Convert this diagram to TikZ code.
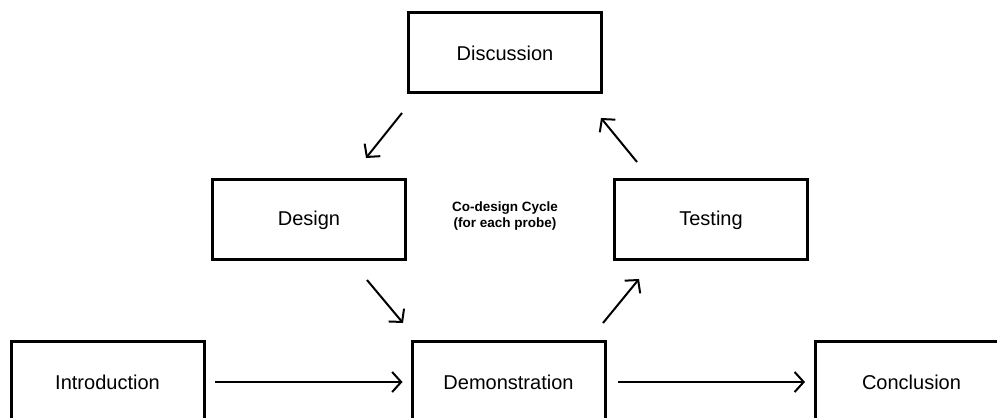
\documentclass[tikz,border=0pt]{standalone}
\usepackage{fontspec}
\setmainfont{Liberation Sans}
\usetikzlibrary{positioning}
\usetikzlibrary{arrows.meta}
\usetikzlibrary{calc}

\begin{document}
\begin{tikzpicture}[x=1pt, y=1pt,
    stage/.style={draw, line width=3pt, minimum width=193pt, minimum height=80pt, font=\fontsize{20}{24}\selectfont},
    flow/.style={line width=2pt, -{Straight Barb[length=9pt, width=20pt]}}]
  \useasboundingbox (0,0) rectangle (997,418);
  \clip (0,0) rectangle (997,418);

  \node[stage] (disc) at (505,365) {Discussion};
  \node[stage] (design) at (309,198) {Design};
  \node[stage] (testing) at (711,198) {Testing};
  \node[stage] (intro) at (107.5,36) {Introduction};
  \node[stage] (demo) at (508.5,36) {Demonstration};
  \node[stage] (concl) at (911.5,36) {Conclusion};

  \node[font=\fontsize{13.5}{15.5}\selectfont\bfseries, align=center] (cycle) at (505,202) {Co-design Cycle\\(for each probe)};

  % the cycle
  \draw[flow] ([shift={(-5,-18.5)}]disc.south west) -- ([shift={(-41,20.5)}]design.north east);
  \draw[flow] ([shift={(-40,-18.5)}]design.south east) -- ([shift={(-7.5,17.5)}]demo.north west);
  \draw[flow] ([shift={(-3.5,17.5)}]demo.north east) -- ([shift={(26,-17.5)}]testing.south west);
  \draw[flow] ([shift={(24,16.5)}]testing.north west) -- ([shift={(-2,-23.5)}]disc.south east);

  \draw[flow, shorten <=9.5pt, shorten >=8pt] (intro) -- (demo);
  \draw[flow, shorten <=11.5pt, shorten >=8.5pt] (demo) -- (concl);
\end{tikzpicture}
\end{document}
